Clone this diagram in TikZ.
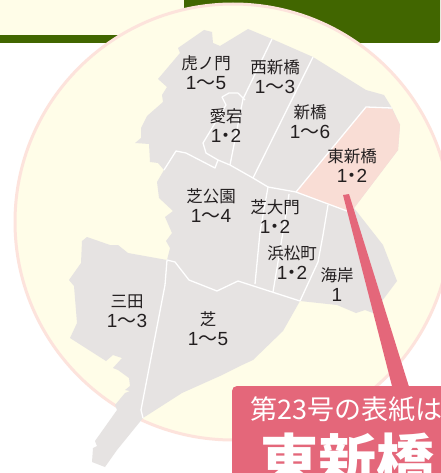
\documentclass[tikz,border=0pt]{standalone}
\usepackage{fontspec}
\setmainfont{Noto Sans CJK JP}
\newfontfamily\numfont{Liberation Sans}
\definecolor{cream}{HTML}{FFFDE8}
\definecolor{leaf}{HTML}{416600}
\definecolor{ringpink}{HTML}{FDE3DC}
\definecolor{mapgray}{HTML}{E6E3E2}
\definecolor{hlpink}{HTML}{F9DDD5}
\definecolor{callout}{HTML}{E4677A}
\definecolor{ink}{HTML}{231F20}
\newcommand{\dotnum}[2]{\fontsize{19}{20}\selectfont{\numfont #1}\hspace{-5pt}・\hspace{-5pt}{\numfont #2}}
\newcommand{\rangenum}[2]{\fontsize{19}{20}\selectfont{\numfont #1}〜{\numfont #2}}
\newcommand{\onenum}[1]{\fontsize{19}{20}\selectfont{\numfont #1}}
\tikzset{
  ward/.style={text=ink,font=\fontsize{16.5}{20}\selectfont,align=center,inner sep=0pt},
  wardline/.style={draw=white,line width=1.3pt,line join=round},
  region/.style={fill=mapgray,draw=none}
}
\begin{document}
\begin{tikzpicture}[x=1pt,y=-1pt]
\useasboundingbox (0,0) rectangle (440,473);
\fill[white] (0,0) rectangle (440,473);
% top bars
\fill[cream] (0,0) rectangle (184,35);
\fill[leaf] (0,35) rectangle (130,43);
\fill[leaf,rounded corners=3pt] (184,-10) rectangle (440,43);
\fill[leaf] (184,0) rectangle (300,43);
% circle
\filldraw[fill=cream,draw=ringpink,line width=3pt] (233,222) circle [radius=218];
% map
\fill[region] (204,30) -- (212,32) -- (213,43) -- (220,46) -- (248,29) -- (272,39) -- (313,57) -- (366,90) -- (384,95) -- (392,108)
 -- (400,125) -- (398,150) -- (354,208) -- (383,245) -- (397,281) -- (373,313) -- (365,310) -- (356,313) -- (337,305) -- (300,301)
 -- (283,331) -- (253,360) -- (240,366) -- (220,376) -- (182,393) -- (143,418) -- (117,450) -- (105,467) -- (92,462) -- (93,448)
 -- (97,446) -- (95,441) -- (117,410) -- (115,405) -- (125,393) -- (130,391) -- (125,390) -- (130,386) -- (129,378) -- (118,370)
 -- (113,368) -- (122,358) -- (113,355) -- (106,361) -- (70,338) -- (77,323) -- (74,286) -- (69,280) -- (81,263) -- (82,241)
 -- (87,237) -- (110,245) -- (118,245) -- (128,253) -- (167,260) -- (170,248) -- (166,241) -- (172,233) -- (165,217) -- (173,211)
 -- (159,198) -- (157,182) -- (164,170) -- (158,163) -- (150,162) -- (149,144) -- (135,143) -- (141,138) -- (141,128) -- (147,116)
 -- (163,102) -- (162,95) -- (167,87) -- (158,79) -- (180,53) -- (178,48) -- cycle;
\fill[hlpink] (366,107) -- (392,109) -- (400,125) -- (398,150) -- (354,208) -- (347,211) -- (296,192) -- cycle;
% boundaries
\draw[wardline] (164,170) -- (176,151) -- (186,153) -- (215,168) -- (218,160) -- (230,165) -- (253,178) -- (268,187) -- (296,192) -- (347,211);
\draw[wardline] (238,93) -- (229,93) -- (222,97) -- (226,105) -- (203,143) -- (206,153) -- (218,160);
\draw[wardline] (272,39) -- (243,99) -- (230,165);
\draw[wardline] (238,93) -- (245,100);
\draw[wardline] (313,57) -- (253,178);
\draw[wardline] (392,108) -- (366,107) -- (296,192);
\draw[wardline] (268,187) -- (260,232) -- (255,284);
\draw[wardline] (289,194) -- (287,208) -- (273,292);
\draw[wardline] (328,205) -- (323,235) -- (318,262) -- (300,301);
\draw[wardline] (167,260) -- (175,262) -- (189,280) -- (217,291) -- (238,281) -- (300,301);
\draw[wardline] (167,260) -- (165,285) -- (141,410) -- (143,418);
% labels
\node[ward] (toranomon) at (206,73) {虎ノ門\\\rangenum{1}{5}};
\node[ward] (nishi) at (275,77) {西新橋\\\rangenum{1}{3}};
\node[ward] (atago) at (226,126) {愛宕\\\dotnum{1}{2}};
\node[ward] (shinbashi) at (310,122) {新橋\\\rangenum{1}{6}};
\node[ward] (higashi) at (352,166) {東新橋\\\dotnum{1}{2}};
\node[ward] (koen) at (211,206) {芝公園\\\rangenum{1}{4}};
\node[ward] (daimon) at (275,217) {芝大門\\\dotnum{1}{2}};
\node[ward] (hamamatsu) at (292,263) {浜松町\\\dotnum{1}{2}};
\node[ward] (kaigan) at (337,285) {海岸\\\onenum{1}};
\node[ward] (mita) at (127,311) {三田\\\rangenum{1}{3}};
\node[ward] (shiba) at (208,329) {芝\\\rangenum{1}{5}};
% callout
\coordinate (barA) at (343,195);
\coordinate (barB) at (349,194);
\fill[callout] (barA) -- (barB) -- (410,390) -- (393,390) -- cycle;
\fill[callout,rounded corners=5pt] (232,483) -- (232,386) -- (460,386) -- (460,483) -- cycle;
\node[anchor=west,text=white,inner sep=0pt,font=\fontsize{27}{30}\selectfont] (lead) at (250,409) {第23号の表紙は};
\node[anchor=center,text=white,inner sep=0pt,font=\bfseries\fontsize{58}{60}\selectfont] (title) at (347.5,460) {東新橋};
\end{tikzpicture}
\end{document}
